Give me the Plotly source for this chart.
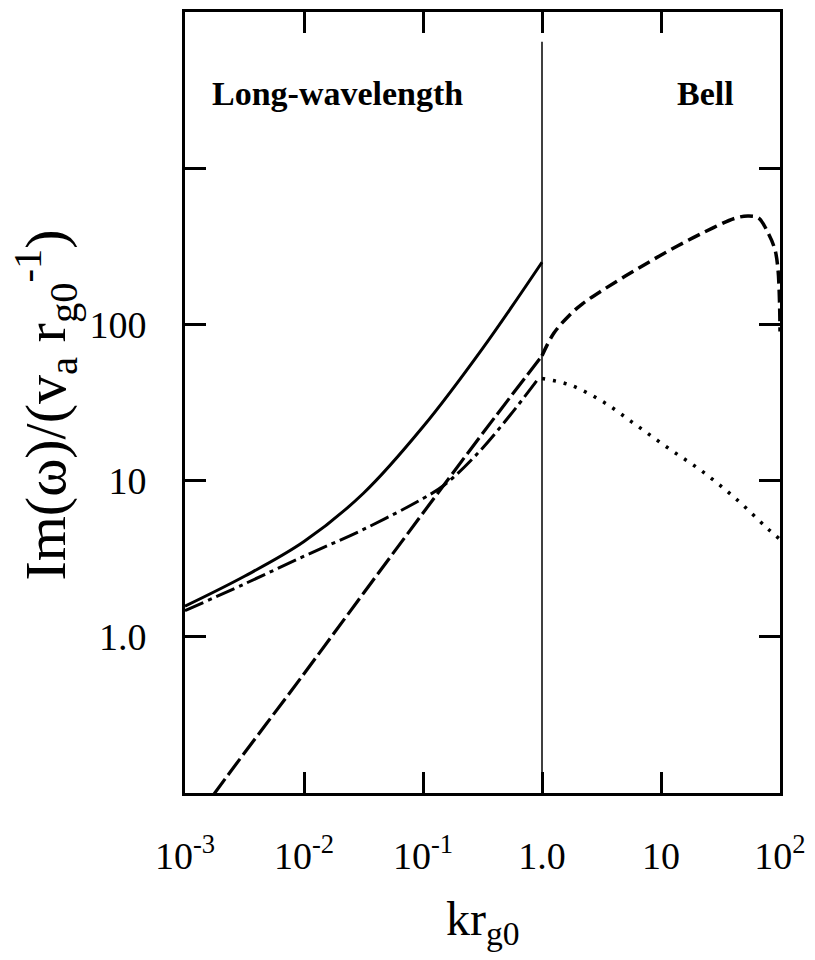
import plotly.graph_objects as go

# ---- data ----
solid_k = [0.001, 0.00316, 0.01, 0.0316, 0.1, 0.316, 1.0]
solid_v = [1.57, 2.44, 4.07, 8.3, 22.1, 70.0, 250.0]

dashdot_k = [0.001, 0.00316, 0.01, 0.0316, 0.1, 0.152, 0.287, 0.541, 0.912]
dashdot_v = [1.47, 2.18, 3.28, 4.87, 7.68, 9.4, 14.9, 26.3, 44.0]

dashlow_k = [0.001, 0.00178, 0.01, 0.0316, 0.1, 0.316, 1.0]
dashlow_v = [0.053, 0.1, 0.58, 1.9, 6.2, 20.0, 63.0]

bell_k = [1.0, 1.26, 1.71, 2.2, 3.29, 6.17, 11.7, 22.4, 42.2, 54.0, 66.0, 79.4, 90.8, 96.2, 98.5, 99.5, 100.0]
bell_v = [63.0, 88.0, 115.0, 136.0, 167.0, 224.0, 297.0, 385.0, 479.0, 494.0, 480.0, 385.0, 300.0, 224.0, 160.0, 120.0, 90.0]

dot_k = [1.0, 1.71, 3.29, 6.17, 11.7, 22.4, 42.2, 79.4, 100.0]
dot_v = [45.0, 41.0, 31.8, 22.7, 16.0, 11.4, 7.7, 4.9, 4.2]

x_tickvals = [1e-3, 1e-2, 1e-1, 1.0, 10.0, 100.0]
x_ticktext = ["10<sup>-3</sup>", "10<sup>-2</sup>", "10<sup>-1</sup>", "1.0", "10", "10<sup>2</sup>"]
y_tickvals = [1.0, 10.0, 100.0, 1000.0]
y_ticktext = ["1.0", "10", "100", ""]

FONT = "Liberation Serif"

fig = go.Figure()
fig.add_trace(go.Scatter(x=solid_k, y=solid_v, mode="lines",
                         line=dict(color="black", width=3, shape="spline")))
fig.add_trace(go.Scatter(x=dashdot_k, y=dashdot_v, mode="lines",
                         line=dict(color="black", width=3, dash="20px,5px,4px,5px", shape="spline")))
fig.add_trace(go.Scatter(x=dashlow_k, y=dashlow_v, mode="lines",
                         line=dict(color="black", width=3.2, dash="20px,5px", shape="spline")))
fig.add_trace(go.Scatter(x=bell_k, y=bell_v, mode="lines",
                         line=dict(color="black", width=3.5, dash="13px,6px", shape="spline")))
fig.add_trace(go.Scatter(x=dot_k, y=dot_v, mode="lines",
                         line=dict(color="black", width=3.5, dash="3px,8px", shape="spline")))

fig.add_shape(type="line", xref="x", yref="paper", x0=1.0, x1=1.0, y0=0, y1=0.962,
              line=dict(color="black", width=1.5))

fig.add_annotation(text="<b>Long-wavelength</b>", xref="paper", yref="paper",
                   x=0.256, y=0.896, xanchor="center", yanchor="middle", showarrow=False,
                   font=dict(family=FONT, size=34, color="black"))
fig.add_annotation(text="<b>Bell</b>", xref="paper", yref="paper",
                   x=0.874, y=0.896, xanchor="center", yanchor="middle", showarrow=False,
                   font=dict(family=FONT, size=34, color="black"))
fig.add_annotation(text="Im(ω)/(v<sub>a</sub> r<sub>g0</sub><sup>-1</sup>)",
                   xref="paper", yref="paper", x=-0.234, y=0.497, textangle=-90,
                   xanchor="center", yanchor="middle",
                   showarrow=False, font=dict(family=FONT, size=58, color="black"))
fig.add_annotation(text="kr<sub>g0</sub>", xref="paper", yref="paper",
                   x=0.5, y=-0.165, xanchor="center", yanchor="middle", showarrow=False,
                   font=dict(family=FONT, size=48, color="black"))

axis_common = dict(showline=True, linewidth=3, linecolor="black", mirror="ticks",
                   ticks="inside", ticklen=21, tickwidth=2.5, tickcolor="black",
                   showgrid=False, zeroline=False,
                   tickfont=dict(family=FONT, size=38, color="black"))
fig.update_xaxes(type="log", range=[-3, 2], tickvals=x_tickvals, ticktext=x_ticktext,
                 ticklabelstandoff=27, **axis_common)
fig.update_yaxes(type="log", range=[-1, 4], tickvals=y_tickvals, ticktext=y_ticktext,
                 ticklabelstandoff=28, **axis_common)

fig.update_layout(width=815, height=960, margin=dict(l=185, r=29, t=9, b=167),
                  plot_bgcolor="white", paper_bgcolor="white", showlegend=False)

fig.write_html("out.html")
